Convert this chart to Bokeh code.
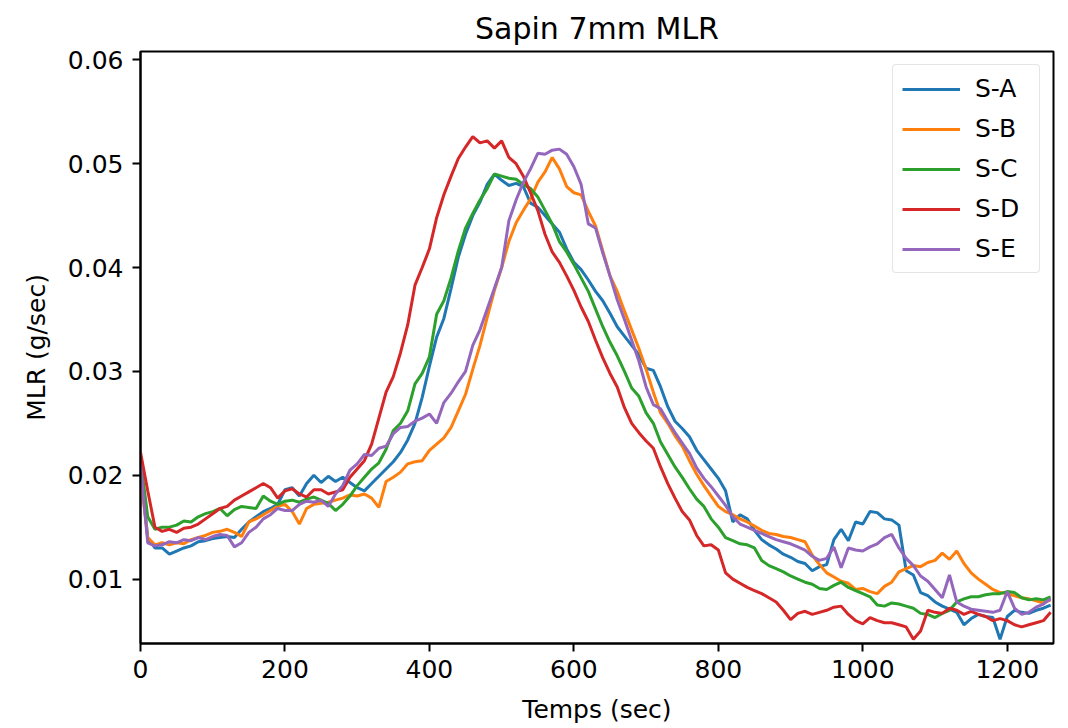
from bokeh.plotting import figure
from bokeh.models import Range1d, FixedTicker, NumeralTickFormatter, Legend, LegendItem
from bokeh.embed import file_html
from bokeh.resources import INLINE

time_sec = list(range(0, 1261, 10))

s_a = [0.0210, 0.0140, 0.0130, 0.0130, 0.0124, 0.0127, 0.0130, 0.0132, 0.0136, 0.0137,
       0.0139, 0.0140, 0.0141, 0.0140, 0.0148, 0.0155, 0.0160, 0.0165, 0.0168, 0.0172,
       0.0186, 0.0188, 0.0180, 0.0192, 0.0200, 0.0193, 0.0199, 0.0194, 0.0198, 0.0193,
       0.0188, 0.0185, 0.0192, 0.0199, 0.0206, 0.0213, 0.0222, 0.0234, 0.0250, 0.0275,
       0.0305, 0.0333, 0.0351, 0.0380, 0.0410, 0.0432, 0.0450, 0.0463, 0.0480, 0.0490,
       0.0484, 0.0479, 0.0481, 0.0478, 0.0462, 0.0458, 0.0450, 0.0442, 0.0434, 0.0418,
       0.0405, 0.0398, 0.0388, 0.0377, 0.0368, 0.0356, 0.0343, 0.0334, 0.0325, 0.0316,
       0.0303, 0.0301, 0.0285, 0.0266, 0.0252, 0.0245, 0.0237, 0.0224, 0.0215, 0.0206,
       0.0197, 0.0185, 0.0155, 0.0162, 0.0158, 0.0147, 0.0138, 0.0133, 0.0129, 0.0124,
       0.0121, 0.0117, 0.0115, 0.0108, 0.0112, 0.0114, 0.0138, 0.0148, 0.0137, 0.0155,
       0.0153, 0.0165, 0.0164, 0.0158, 0.0157, 0.0152, 0.0108, 0.0104, 0.0087, 0.0084,
       0.0078, 0.0074, 0.0071, 0.0068, 0.0056, 0.0062, 0.0066, 0.0064, 0.0063, 0.0042,
       0.0064, 0.0070, 0.0068, 0.0067, 0.0070, 0.0072, 0.0075]

s_b = [0.0200, 0.0140, 0.0133, 0.0135, 0.0133, 0.0135, 0.0134, 0.0138, 0.0140, 0.0142,
       0.0145, 0.0146, 0.0148, 0.0145, 0.0141, 0.0155, 0.0158, 0.0162, 0.0166, 0.0170,
       0.0172, 0.0165, 0.0153, 0.0168, 0.0172, 0.0173, 0.0174, 0.0176, 0.0178, 0.0181,
       0.0180, 0.0182, 0.0178, 0.0169, 0.0194, 0.0198, 0.0203, 0.0211, 0.0213, 0.0214,
       0.0224, 0.0230, 0.0236, 0.0246, 0.0262, 0.0278, 0.0302, 0.0325, 0.0352, 0.0378,
       0.0400, 0.0425, 0.0443, 0.0455, 0.0466, 0.0482, 0.0492, 0.0506, 0.0495, 0.0478,
       0.0472, 0.0470, 0.0454, 0.0440, 0.0416, 0.0392, 0.0377, 0.0358, 0.0340, 0.0322,
       0.0302, 0.0280, 0.0260, 0.0250, 0.0238, 0.0228, 0.0214, 0.0201, 0.0190, 0.0180,
       0.0170, 0.0165, 0.0162, 0.0158, 0.0155, 0.0151, 0.0147, 0.0144, 0.0143, 0.0141,
       0.0140, 0.0138, 0.0136, 0.0123, 0.0114, 0.0106, 0.0102, 0.0098, 0.0096, 0.0090,
       0.0091, 0.0088, 0.0086, 0.0093, 0.0097, 0.0107, 0.0110, 0.0113, 0.0112, 0.0116,
       0.0118, 0.0125, 0.0119, 0.0127, 0.0115, 0.0106, 0.0100, 0.0095, 0.0090, 0.0087,
       0.0086, 0.0084, 0.0082, 0.0081, 0.0079, 0.0077, 0.0080]

s_c = [0.0215, 0.0160, 0.0148, 0.0150, 0.0150, 0.0152, 0.0156, 0.0155, 0.0160, 0.0163,
       0.0165, 0.0168, 0.0161, 0.0167, 0.0170, 0.0169, 0.0168, 0.0180, 0.0175, 0.0172,
       0.0175, 0.0176, 0.0174, 0.0177, 0.0179, 0.0176, 0.0173, 0.0166, 0.0172, 0.0180,
       0.0190, 0.0198, 0.0206, 0.0212, 0.0225, 0.0243, 0.0250, 0.0262, 0.0288, 0.0298,
       0.0314, 0.0355, 0.0368, 0.0390, 0.0416, 0.0438, 0.0452, 0.0465, 0.0476, 0.0490,
       0.0488, 0.0486, 0.0485, 0.0480, 0.0476, 0.0468, 0.0455, 0.0442, 0.0425, 0.0415,
       0.0403, 0.0390, 0.0377, 0.0360, 0.0343, 0.0328, 0.0315, 0.0300, 0.0284, 0.0276,
       0.0260, 0.0250, 0.0232, 0.0220, 0.0208, 0.0198, 0.0187, 0.0177, 0.0170, 0.0158,
       0.0150, 0.0140, 0.0137, 0.0134, 0.0133, 0.0130, 0.0118, 0.0113, 0.0110, 0.0107,
       0.0103, 0.0100, 0.0097, 0.0095, 0.0091, 0.0090, 0.0094, 0.0097, 0.0092, 0.0089,
       0.0086, 0.0083, 0.0075, 0.0074, 0.0077, 0.0076, 0.0074, 0.0072, 0.0067, 0.0066,
       0.0063, 0.0067, 0.0070, 0.0078, 0.0081, 0.0083, 0.0083, 0.0085, 0.0086, 0.0086,
       0.0088, 0.0087, 0.0082, 0.0080, 0.0081, 0.0080, 0.0083]

s_d = [0.0222, 0.0185, 0.0150, 0.0146, 0.0148, 0.0145, 0.0149, 0.0150, 0.0153, 0.0158,
       0.0163, 0.0168, 0.0170, 0.0176, 0.0180, 0.0184, 0.0188, 0.0192, 0.0188, 0.0178,
       0.0185, 0.0187, 0.0182, 0.0179, 0.0186, 0.0186, 0.0182, 0.0184, 0.0186, 0.0198,
       0.0206, 0.0214, 0.0230, 0.0255, 0.0280, 0.0295, 0.0318, 0.0345, 0.0383, 0.0400,
       0.0418, 0.0448, 0.0470, 0.0488, 0.0505, 0.0516, 0.0526, 0.0520, 0.0522, 0.0515,
       0.0522, 0.0506, 0.0500, 0.0488, 0.0472, 0.0455, 0.0432, 0.0415, 0.0405, 0.0392,
       0.0378, 0.0362, 0.0348, 0.0330, 0.0313, 0.0298, 0.0285, 0.0265, 0.0250, 0.0241,
       0.0233, 0.0226, 0.0208, 0.0192, 0.0178, 0.0165, 0.0157, 0.0142, 0.0132, 0.0133,
       0.0128, 0.0106, 0.0100, 0.0096, 0.0092, 0.0089, 0.0086, 0.0082, 0.0078, 0.0070,
       0.0061, 0.0067, 0.0069, 0.0066, 0.0068, 0.0070, 0.0073, 0.0074, 0.0066, 0.0060,
       0.0057, 0.0063, 0.0060, 0.0058, 0.0058, 0.0056, 0.0054, 0.0042, 0.0050, 0.0070,
       0.0068, 0.0067, 0.0072, 0.0070, 0.0066, 0.0069, 0.0066, 0.0064, 0.0060, 0.0062,
       0.0060, 0.0056, 0.0054, 0.0056, 0.0058, 0.0060, 0.0068]

s_e = [0.0210, 0.0135, 0.0132, 0.0133, 0.0136, 0.0135, 0.0138, 0.0137, 0.0140, 0.0138,
       0.0141, 0.0143, 0.0142, 0.0131, 0.0135, 0.0145, 0.0150, 0.0158, 0.0162, 0.0168,
       0.0166, 0.0166, 0.0172, 0.0175, 0.0174, 0.0176, 0.0170, 0.0182, 0.0190, 0.0205,
       0.0211, 0.0220, 0.0219, 0.0226, 0.0228, 0.0240, 0.0246, 0.0247, 0.0252, 0.0255,
       0.0259, 0.0250, 0.0270, 0.0279, 0.0290, 0.0300, 0.0325, 0.0340, 0.0360, 0.0380,
       0.0400, 0.0445, 0.0465, 0.0482, 0.0495, 0.0510, 0.0509, 0.0513, 0.0514, 0.0509,
       0.0497, 0.0480, 0.0442, 0.0438, 0.0414, 0.0392, 0.0369, 0.0350, 0.0330, 0.0310,
       0.0285, 0.0268, 0.0264, 0.0252, 0.0241, 0.0231, 0.0221, 0.0207, 0.0197, 0.0189,
       0.0180, 0.0171, 0.0160, 0.0153, 0.0150, 0.0147, 0.0144, 0.0141, 0.0138, 0.0136,
       0.0134, 0.0131, 0.0128, 0.0122, 0.0118, 0.0120, 0.0131, 0.0111, 0.0130, 0.0128,
       0.0127, 0.0131, 0.0134, 0.0140, 0.0143, 0.0130, 0.0120, 0.0113, 0.0103, 0.0098,
       0.0090, 0.0082, 0.0104, 0.0078, 0.0074, 0.0071, 0.0070, 0.0069, 0.0068, 0.0070,
       0.0088, 0.0072, 0.0066, 0.0068, 0.0073, 0.0076, 0.0081]

series_names = ["S-A", "S-B", "S-C", "S-D", "S-E"]
series_values = [s_a, s_b, s_c, s_d, s_e]
colors = ["#1f77b4", "#ff7f0e", "#2ca02c", "#d62728", "#9467bd"]
x_ticks = [0, 200, 400, 600, 800, 1000, 1200]
y_ticks = [0.01, 0.02, 0.03, 0.04, 0.05, 0.06]

FONT = "DejaVu Sans"

p = figure(width=1068, height=728, output_backend="svg", toolbar_location=None,
           x_range=Range1d(0, 1264), y_range=Range1d(0.0038, 0.0608),
           min_border_left=140, min_border_right=15, min_border_top=51, min_border_bottom=85,
           title="Sapin 7mm MLR")

p.title.align = "center"
p.title.text_font = FONT
p.title.text_font_size = "30px"
p.title.text_font_style = "normal"
p.title.text_color = "#000000"
p.title.standoff = 12

p.xgrid.visible = False
p.ygrid.visible = False
p.outline_line_color = "#000000"
p.outline_line_width = 2
p.outline_line_alpha = 1.0
p.background_fill_color = "white"
p.border_fill_color = "white"

items = []
for name, vals, col in zip(series_names, series_values, colors):
    r = p.line(time_sec, vals, line_color=col, line_width=3)
    items.append(LegendItem(label=name, renderers=[r]))

legend = Legend(items=items, location="top_right")
legend.label_text_font = FONT
legend.label_text_font_size = "25px"
legend.label_text_color = "#000000"
legend.glyph_width = 58
legend.glyph_height = 28
legend.label_height = 28
legend.label_width = 55
legend.spacing = 11
legend.padding = 9
legend.margin = 13
legend.label_standoff = 15
legend.border_line_color = "#cccccc"
legend.border_line_width = 1.5
legend.border_radius = 4
legend.background_fill_alpha = 0.8
p.add_layout(legend)

for ax in (p.xaxis[0], p.yaxis[0]):
    ax.axis_line_color = "#000000"
    ax.axis_line_width = 2
    ax.major_tick_line_color = "#000000"
    ax.major_tick_line_width = 2
    ax.major_tick_out = 8
    ax.major_tick_in = 0
    ax.minor_tick_out = 0
    ax.minor_tick_in = 0
    ax.major_label_text_font = FONT
    ax.major_label_text_font_size = "25px"
    ax.major_label_text_color = "#000000"
    ax.axis_label_text_font = FONT
    ax.axis_label_text_font_size = "25px"
    ax.axis_label_text_font_style = "normal"
    ax.axis_label_text_color = "#000000"

p.xaxis[0].ticker = FixedTicker(ticks=x_ticks)
p.yaxis[0].ticker = FixedTicker(ticks=y_ticks)
p.yaxis[0].formatter = NumeralTickFormatter(format="0.00")
p.xaxis[0].axis_label = "Temps (sec)"
p.yaxis[0].axis_label = "MLR (g/sec)"
p.xaxis[0].major_label_standoff = 8
p.yaxis[0].major_label_standoff = 9
p.xaxis[0].axis_label_standoff = 14
p.yaxis[0].axis_label_standoff = 14

open("out.html", "w").write(file_html(p, INLINE))
